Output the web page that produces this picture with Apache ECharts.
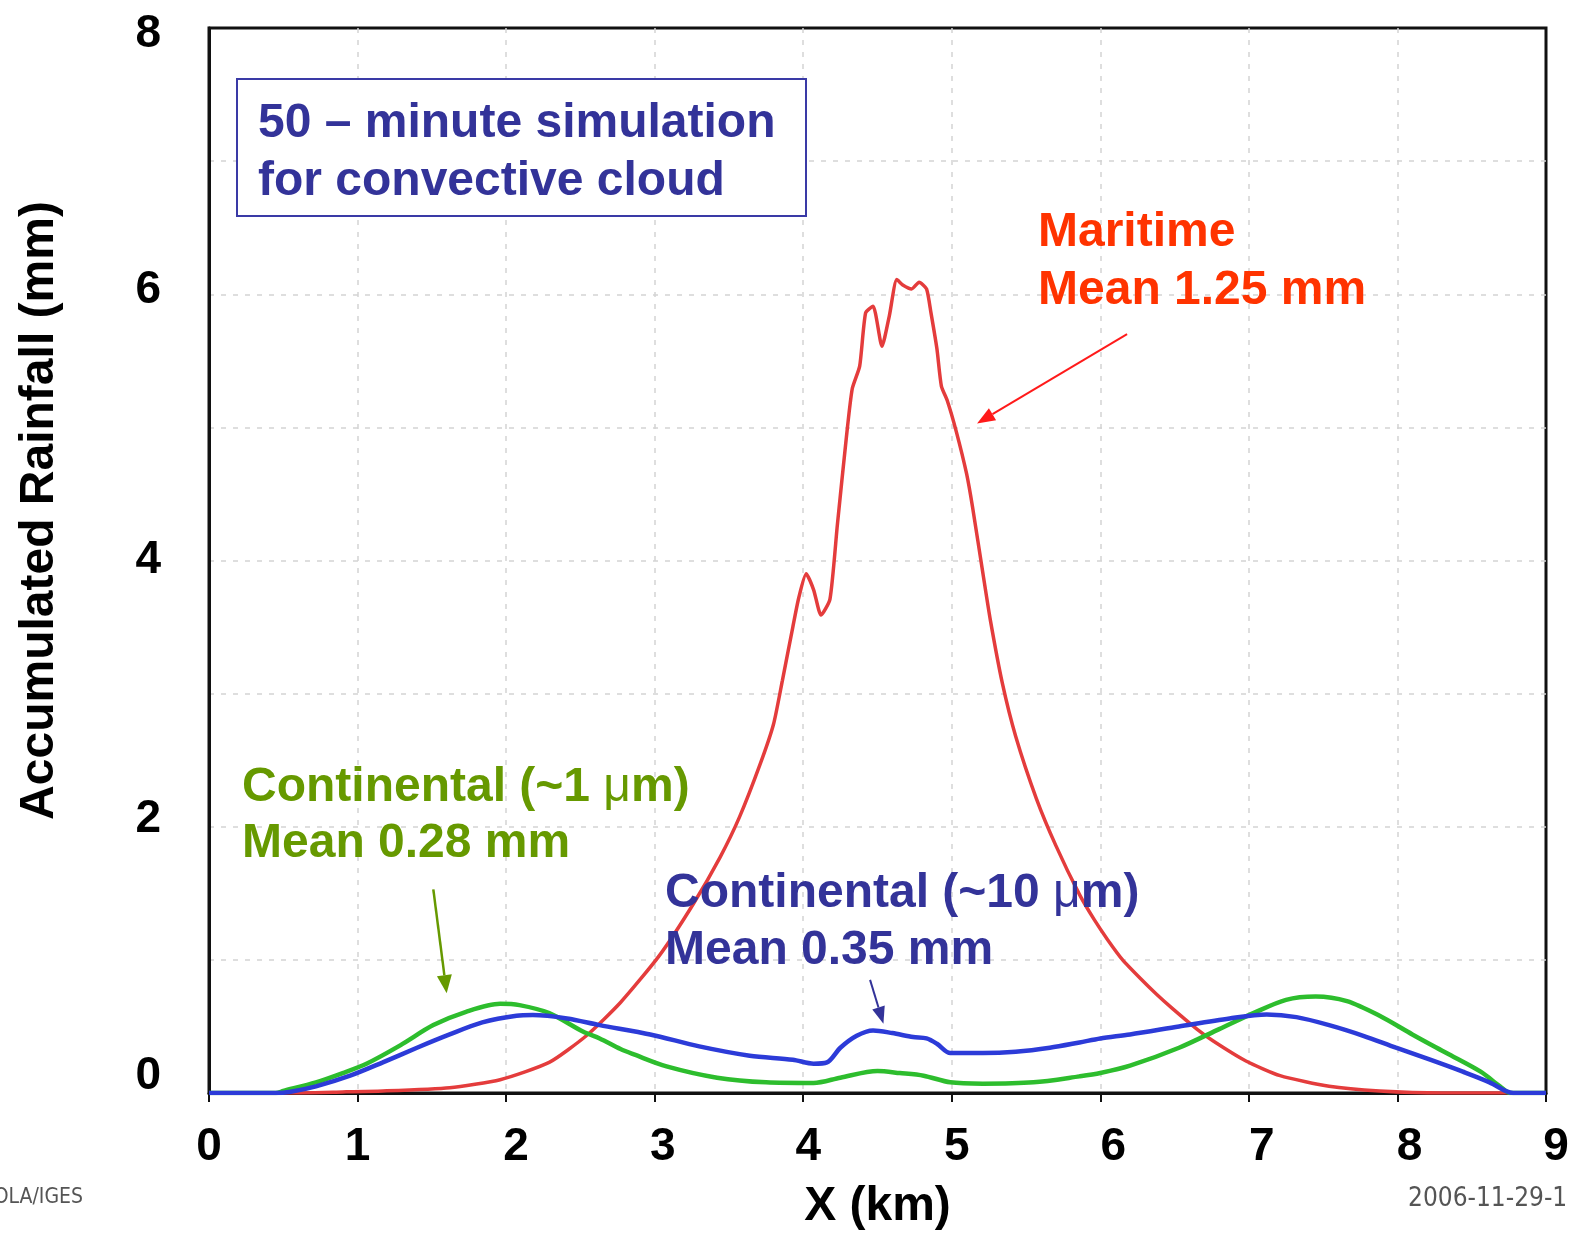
<!DOCTYPE html>
<html>
<head>
<meta charset="utf-8">
<script src="https://cdn.jsdelivr.net/npm/echarts@6/dist/echarts.min.js"></script>
<style>
  html, body { margin: 0; padding: 0; background: #ffffff; }
  #chart { width: 1573px; height: 1236px; }
</style>
</head>
<body>
<div id="chart"></div>
<script>
// Accumulated rainfall (mm) along X (km) after a 50-minute convective cloud run.
const maritime = [
  [0, 0], [0.5, 0], [0.9, 0.008], [1.17, 0.015], [1.62, 0.04], [1.96, 0.10], [2.29, 0.23],
  [2.54, 0.43], [2.77, 0.68], [3.03, 1.03], [3.26, 1.42], [3.44, 1.77], [3.57, 2.07],
  [3.71, 2.47], [3.80, 2.77], [3.86, 3.10], [3.93, 3.50], [3.97, 3.72], [4.02, 3.90],
  [4.07, 3.78], [4.12, 3.59], [4.18, 3.71], [4.23, 4.27], [4.29, 4.92], [4.33, 5.29],
  [4.38, 5.46], [4.42, 5.86], [4.47, 5.91], [4.53, 5.61], [4.58, 5.84], [4.63, 6.11],
  [4.67, 6.07], [4.73, 6.04], [4.78, 6.09], [4.83, 6.04], [4.86, 5.86], [4.90, 5.59],
  [4.93, 5.31], [4.97, 5.20], [5.03, 4.97], [5.10, 4.65], [5.14, 4.40], [5.21, 3.90],
  [5.26, 3.55], [5.34, 3.08], [5.43, 2.68], [5.57, 2.21], [5.70, 1.86], [5.86, 1.49],
  [5.96, 1.30], [6.05, 1.15], [6.15, 1.00], [6.27, 0.86], [6.38, 0.74], [6.49, 0.63],
  [6.65, 0.48], [6.76, 0.39], [6.98, 0.24], [7.21, 0.13], [7.54, 0.05], [7.88, 0.015],
  [8.3, 0], [9, 0]
];

const continental1um = [
  [0, 0], [0.45, 0], [0.5, 0.015], [0.72, 0.08], [0.90, 0.15], [1.06, 0.22], [1.29, 0.36],
  [1.51, 0.51], [1.73, 0.61], [1.96, 0.67], [2.09, 0.66], [2.29, 0.60], [2.52, 0.46],
  [2.63, 0.41], [2.77, 0.33], [2.86, 0.29], [3.08, 0.20], [3.42, 0.115], [3.75, 0.08],
  [4.07, 0.075], [4.25, 0.115], [4.50, 0.165], [4.65, 0.15], [4.81, 0.13], [4.99, 0.08],
  [5.21, 0.07], [5.55, 0.08], [5.86, 0.125], [6.00, 0.15], [6.20, 0.205], [6.53, 0.34],
  [6.80, 0.48], [7.03, 0.60], [7.25, 0.70], [7.45, 0.725], [7.66, 0.69], [7.88, 0.58],
  [8.10, 0.44], [8.33, 0.30], [8.56, 0.16], [8.69, 0.05], [8.76, 0], [9, 0]
];

const continental10um = [
  [0, 0], [0.45, 0], [0.55, 0.01], [0.72, 0.05], [0.95, 0.13], [1.17, 0.23], [1.40, 0.34],
  [1.62, 0.44], [1.84, 0.53], [2.07, 0.58], [2.18, 0.585], [2.41, 0.56], [2.63, 0.51],
  [2.97, 0.44], [3.30, 0.35], [3.64, 0.28], [3.93, 0.25], [4.07, 0.22], [4.16, 0.23],
  [4.25, 0.34], [4.36, 0.43], [4.47, 0.47], [4.60, 0.45], [4.74, 0.42], [4.83, 0.41],
  [4.90, 0.37], [4.99, 0.30], [5.21, 0.30], [5.43, 0.31], [5.66, 0.34], [5.86, 0.38],
  [6.00, 0.41], [6.20, 0.44], [6.53, 0.50], [6.87, 0.56], [7.12, 0.59], [7.32, 0.57],
  [7.54, 0.51], [7.77, 0.43], [7.99, 0.34], [8.22, 0.25], [8.44, 0.16], [8.62, 0.08],
  [8.73, 0.015], [8.78, 0], [9, 0]
];

const yTickLabels = [0, 2, 4, 6, 8];

// Arrow endpoints in data units: [tailX, tailY, tipX, tipY]
const maritimeArrow = [6.18, 5.70, 5.17, 5.03];
const cont1Arrow = [1.51, 1.53, 1.60, 0.75];
const cont10Arrow = [4.45, 0.85, 4.54, 0.52];

const FONT = '"Liberation Sans", Arial, Helvetica, sans-serif';
const NARROW = '"Liberation Sans Narrow", "DejaVu Sans Condensed", "Liberation Sans", sans-serif';

// small per-label nudges of the tick text
const yNudge = { 0: [0, 0, 34, 0], 2: [0, 0, 14, 0], 4: [0, 0, 0, 0], 6: [0, 0, 8, 0], 8: [12, 0, 0, 0] };
const xNudge = { 0: 0, 1: 0, 2: 20, 3: 16, 4: 10, 5: 10, 6: 26, 7: 26, 8: 24, 9: 20 };

const tickFont = { fontFamily: FONT, fontWeight: 'bold', fontSize: 46, color: '#000' };

const yRich = {};
yTickLabels.forEach(v => { yRich['y' + v] = Object.assign({ padding: yNudge[v] }, tickFont); });
const xRich = {};
for (let i = 0; i <= 9; i++) { xRich['x' + i] = Object.assign({ padding: [0, 0, 0, xNudge[i]] }, tickFont); }

const chart = echarts.init(document.getElementById('chart'), null, { renderer: 'canvas' });

const gridLine = {
  show: true, showMinLine: false, showMaxLine: false,
  lineStyle: { color: '#d4d4d4', width: 1.5, type: [5, 7] }
};

chart.setOption({
  animation: false,
  backgroundColor: '#ffffff',
  grid: {
    left: 209, right: 27, top: 28, bottom: 139,
    show: true, borderColor: '#111', borderWidth: 3, backgroundColor: 'transparent'
  },
  xAxis: {
    type: 'value', min: 0, max: 9, interval: 1,
    name: 'X (km)', nameLocation: 'middle', nameGap: 90,
    nameTextStyle: { fontFamily: FONT, fontWeight: 'bold', fontSize: 48, color: '#000' },
    axisLine: { show: true, lineStyle: { color: '#111', width: 3 } },
    axisTick: { show: true, inside: false, length: 9, lineStyle: { color: '#111', width: 2 } },
    axisLabel: {
      margin: 31,
      formatter: v => '{x' + v + '|' + v + '}',
      rich: xRich
    },
    splitLine: gridLine
  },
  yAxis: {
    type: 'value', min: 0, max: 8, interval: 1,
    name: 'Accumulated Rainfall (mm)', nameLocation: 'middle', nameGap: 145,
    nameTextStyle: { fontFamily: FONT, fontWeight: 'bold', fontSize: 48, color: '#000', padding: [0, 0, 0, 100] },
    axisLine: { show: true, lineStyle: { color: '#111', width: 3 } },
    axisTick: { show: false },
    axisLabel: {
      margin: 48,
      formatter: v => (v % 2 === 0 ? '{y' + v + '|' + v + '}' : ''),
      rich: yRich
    },
    splitLine: gridLine
  },
  series: [
    {
      name: 'Maritime', type: 'line', data: maritime, showSymbol: false, symbol: 'none',
      smooth: 0.2, lineStyle: { color: '#e43c3c', width: 3.5 }, z: 2
    },
    {
      name: 'Continental (~1 μm)', type: 'line', data: continental1um, showSymbol: false, symbol: 'none',
      smooth: 0.3, lineStyle: { color: '#2dbd2d', width: 4.5 }, z: 3
    },
    {
      name: 'Continental (~10 μm)', type: 'line', data: continental10um, showSymbol: false, symbol: 'none',
      smooth: 0.3, lineStyle: { color: '#2c3bd8', width: 4.5 }, z: 4
    }
  ]
});

// Arrow from tail to tip, with a filled triangular head
function arrow(spec, color, lineW, headLen, headHalf) {
  const a = chart.convertToPixel({ gridIndex: 0 }, [spec[0], spec[1]]);
  const b = chart.convertToPixel({ gridIndex: 0 }, [spec[2], spec[3]]);
  const dx = b[0] - a[0], dy = b[1] - a[1];
  const len = Math.hypot(dx, dy);
  const ux = dx / len, uy = dy / len;
  const bx = b[0] - ux * headLen, by = b[1] - uy * headLen;
  return [
    { type: 'line', z: 20, shape: { x1: a[0], y1: a[1], x2: bx, y2: by }, style: { stroke: color, lineWidth: lineW } },
    { type: 'polygon', z: 20, shape: { points: [[b[0], b[1]], [bx - uy * headHalf, by + ux * headHalf], [bx + uy * headHalf, by - ux * headHalf]] }, style: { fill: color } }
  ];
}

function note(x, y, text, color, rich) {
  return {
    type: 'text', z: 20, x: x, y: y,
    style: {
      text: text, fill: color, font: 'bold 48px ' + FONT,
      align: 'left', verticalAlign: 'middle', rich: rich || undefined
    }
  };
}

const muRich = (color) => ({ mu: { fontFamily: FONT, fontWeight: 'normal', fontSize: 48, fill: color, color: color } });

const graphics = [
  { type: 'rect', z: 19, shape: { x: 237, y: 79, width: 569, height: 137 }, style: { fill: '#ffffff', stroke: '#3a3aa6', lineWidth: 2 } },
  note(258, 124, '50 – minute simulation', '#333399'),
  note(258, 182, 'for convective cloud', '#333399'),
  note(1038, 233, 'Maritime', '#ff3300'),
  note(1038, 291, 'Mean 1.25 mm', '#ff3300'),
  note(242, 788, 'Continental (~1 {mu|μ}m)', '#669900', muRich('#669900')),
  note(242, 844, 'Mean 0.28 mm', '#669900'),
  note(665, 894, 'Continental (~10 {mu|μ}m)', '#333399', muRich('#333399')),
  note(665, 951, 'Mean 0.35 mm', '#333399'),
  {
    type: 'text', z: 20, x: 83, y: 1198,
    style: { text: 'COLA/IGES', fill: '#555555', font: '21px ' + NARROW, align: 'right', verticalAlign: 'middle' }
  },
  {
    type: 'text', z: 20, x: 1408, y: 1199,
    style: { text: '2006-11-29-1', fill: '#555555', font: '26px ' + NARROW, align: 'left', verticalAlign: 'middle' }
  }
]
  .concat(arrow(maritimeArrow, '#ff1a1a', 2, 18, 7))
  .concat(arrow(cont1Arrow, '#669900', 2.5, 18, 7.5))
  .concat(arrow(cont10Arrow, '#333399', 2, 17, 6.5));

chart.setOption({ graphic: graphics });
</script>
</body>
</html>
